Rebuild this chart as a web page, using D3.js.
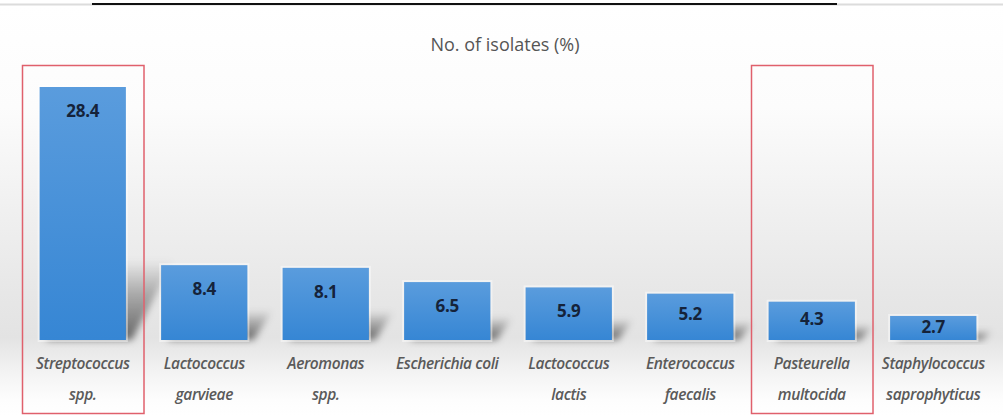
<!DOCTYPE html>
<html>
<head>
<meta charset="utf-8">
<script src="https://cdn.jsdelivr.net/npm/d3@7"></script>
<style>
  html, body { margin: 0; padding: 0; background: #ffffff; }
  svg { display: block; }
</style>
</head>
<body>
<svg id="chart" width="1003" height="416"></svg>
<script>
// Share of isolates per bacterial species (%)
const categories = [
  "Streptococcus spp.",
  "Lactococcus garvieae",
  "Aeromonas spp.",
  "Escherichia coli",
  "Lactococcus lactis",
  "Enterococcus faecalis",
  "Pasteurella multocida",
  "Staphylococcus saprophyticus"
];
const labelLines = [
  ["Streptococcus", "spp."],
  ["Lactococcus", "garvieae"],
  ["Aeromonas", "spp."],
  ["Escherichia coli"],
  ["Lactococcus", "lactis"],
  ["Enterococcus", "faecalis"],
  ["Pasteurella", "multocida"],
  ["Staphylococcus", "saprophyticus"]
];
const values = [28.4, 8.4, 8.1, 6.5, 5.9, 5.2, 4.3, 2.7];
const highlighted = ["Streptococcus spp.", "Pasteurella multocida"];
const title = "No. of isolates (%)";

const W = 1003, H = 416;
const svg = d3.select("#chart");
const defs = svg.append("defs");

// panel background: white top fading to a grey floor, then back to white
const bg = defs.append("linearGradient").attr("id", "bgGrad")
  .attr("x1", 0).attr("y1", 0).attr("x2", 0).attr("y2", 1);
[[0, "#ffffff"], [0.25, "#fcfcfc"], [0.5, "#f0f0f0"], [0.7, "#e7e7e7"], [0.81, "#e3e3e3"],
 [0.84, "#e9e9e9"], [0.9, "#f4f4f4"], [0.96, "#fdfdfd"], [1, "#ffffff"]]
  .forEach(([o, c]) => bg.append("stop").attr("offset", o).attr("stop-color", c));

const barGrad = defs.append("linearGradient").attr("id", "barGrad")
  .attr("x1", 0).attr("y1", 0).attr("x2", 0).attr("y2", 1);
barGrad.append("stop").attr("offset", 0).attr("stop-color", "#5a9cdd");
barGrad.append("stop").attr("offset", 1).attr("stop-color", "#3686d4");

const shGrad = defs.append("linearGradient").attr("id", "shadowGrad")
  .attr("x1", 0).attr("y1", 1).attr("x2", 0).attr("y2", 0);
shGrad.append("stop").attr("offset", 0).attr("stop-color", "#000").attr("stop-opacity", 0.55);
shGrad.append("stop").attr("offset", 0.6).attr("stop-color", "#000").attr("stop-opacity", 0.25);
shGrad.append("stop").attr("offset", 1).attr("stop-color", "#000").attr("stop-opacity", 0);

defs.append("filter").attr("id", "soft").attr("x", "-50%").attr("y", "-50%")
  .attr("width", "200%").attr("height", "200%")
  .append("feGaussianBlur").attr("stdDeviation", 3.5);

svg.append("rect").attr("x", 0).attr("y", 5).attr("width", W).attr("height", H - 5)
  .attr("fill", "url(#bgGrad)");

// top rule
svg.append("line").attr("x1", 0).attr("x2", W).attr("y1", 4.5).attr("y2", 4.5)
  .attr("stroke", "#dcdcdc").attr("stroke-width", 2);
svg.append("line").attr("x1", 92).attr("x2", 837).attr("y1", 4).attr("y2", 4)
  .attr("stroke", "#111").attr("stroke-width", 2);

// scales
const x = d3.scaleBand().domain(categories).range([22, 994])
  .paddingInner(0.29).paddingOuter(0.145);
const baseY = 340;
const y = d3.scaleLinear().domain([0, 28.4]).range([baseY, 87]);

const data = categories.map((c, i) => ({ cat: c, v: values[i], lines: labelLines[i] }));

// perspective shadows cast to the upper right behind bars
svg.append("g").selectAll("path").data(data).join("path")
  .attr("filter", "url(#soft)")
  .attr("fill", "url(#shadowGrad)")
  .attr("d", d => {
    const x0 = x(d.cat), x1 = x0 + x.bandwidth();
    const h = Math.min(80, (baseY - y(d.v)) * 0.4);
    const s = h * 0.45 + 6;
    return `M${x0 + 6},${baseY} L${x1 + 6},${baseY} L${x1 + 6 + s},${baseY - h} L${x0 + 6 + s},${baseY - h} Z`;
  });

// bars with a faint light rim
const bars = svg.append("g");
bars.selectAll("rect.rim").data(data).join("rect").attr("class", "rim")
  .attr("x", d => x(d.cat) - 1).attr("y", d => y(d.v) - 1)
  .attr("width", x.bandwidth() + 2).attr("height", d => baseY - y(d.v) + 2)
  .attr("fill", "none").attr("stroke", "#ffffff").attr("stroke-opacity", 0.45)
  .attr("stroke-width", 2);
bars.selectAll("rect.bar").data(data).join("rect").attr("class", "bar")
  .attr("x", d => x(d.cat)).attr("y", d => y(d.v))
  .attr("width", x.bandwidth()).attr("height", d => baseY - y(d.v))
  .attr("fill", "url(#barGrad)");

// value labels inside the top of each bar
svg.append("g").selectAll("text").data(data).join("text")
  .attr("x", d => x(d.cat) + x.bandwidth() / 2)
  .attr("y", d => {
    const h = baseY - y(d.v);
    return y(d.v) + Math.min(24, h * 0.45);
  })
  .attr("dy", "0.35em")
  .attr("text-anchor", "middle")
  .attr("font-family", "'Open Sans', 'Noto Sans', sans-serif")
  .attr("font-weight", "bold")
  .attr("font-size", 17)
  .attr("letter-spacing", -0.3)
  .attr("fill", "#15233a")
  .text(d => d.v.toFixed(1));

// category labels
const lab = svg.append("g").selectAll("text").data(data).join("text")
  .attr("x", d => x(d.cat) + x.bandwidth() / 2)
  .attr("y", 369)
  .attr("text-anchor", "middle")
  .attr("font-family", "'Open Sans', 'Noto Sans', sans-serif")
  .attr("font-style", "italic")
  .attr("font-weight", 600)
  .attr("font-size", 15.5)
  .attr("letter-spacing", -0.4)
  .attr("fill", "#5a5a5a");
lab.selectAll("tspan").data(d => d.lines.map(t => ({ t, cx: x(d.cat) + x.bandwidth() / 2 })))
  .join("tspan")
  .attr("x", t => t.cx)
  .attr("dy", (t, i) => i === 0 ? 0 : 31)
  .text(t => t.t);

// title
svg.append("text").attr("x", 505).attr("y", 51).attr("text-anchor", "middle")
  .attr("font-family", "'Open Sans', 'Noto Sans', sans-serif")
  .attr("font-size", 18).attr("font-weight", 500).attr("fill", "#555555")
  .text(title);

// red frames around the highlighted categories
svg.append("g").selectAll("rect").data(highlighted).join("rect")
  .attr("x", c => x(c) - x.step() * 0.145 + 0.5)
  .attr("y", 65.5)
  .attr("width", x.step())
  .attr("height", 348)
  .attr("fill", "none")
  .attr("stroke", "#e0606c")
  .attr("stroke-width", 1.5);
</script>
</body>
</html>
